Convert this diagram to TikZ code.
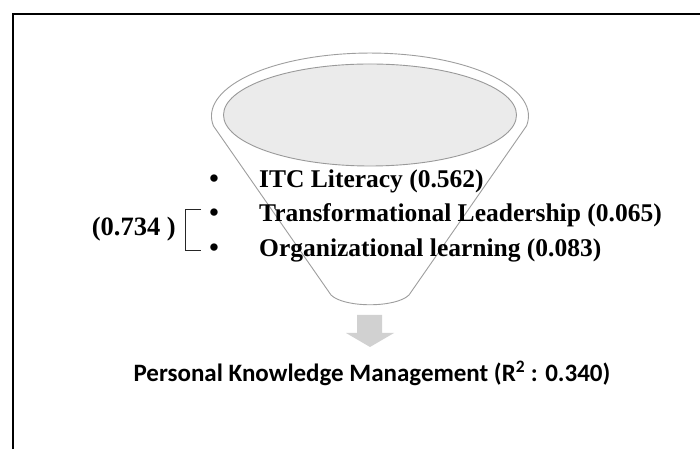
\documentclass[tikz,border=0pt]{standalone}
\usepackage{fontspec}
\setmainfont{Liberation Serif}
\newfontfamily\calib{Carlito}
\begin{document}
\begin{tikzpicture}[x=1pt,y=1pt,
  frameline/.style={line width=2pt, line join=miter},
  funnelline/.style={draw=black!38, line width=0.9pt},
  innerell/.style={draw=black!40, fill=black!8, line width=0.9pt},
  item/.style={anchor=base west, inner sep=0pt, font=\fontsize{25.5}{30}\selectfont\bfseries},
  bul/.style={anchor=base, inner sep=0pt, font=\fontsize{27}{30}\selectfont\bfseries},
  total/.style={anchor=base east, inner sep=0pt, font=\fontsize{26.5}{30}\selectfont\bfseries},
  bracketline/.style={draw=black!85, line width=0.8pt},
  arrowfill/.style={fill=black!18},
  pkmtext/.style={anchor=base, inner sep=0pt, font=\calib\fontsize{25}{30}\selectfont\bfseries}
]
\useasboundingbox (0,0) rectangle (700,449);
% frame
\draw[frameline] (13,0) -- (13,434.7) -- (700,434.7);
% funnel
\path[funnelline, fill=white] (409,154) -- (526.5,323.1)
  arc[start angle=-9, end angle=189, x radius=158.5, y radius=63]
  -- (331,154) .. controls (344,141) and (396,141) .. (409,154) -- cycle;
\draw[innerell] (370,334) ellipse [x radius=146.5, y radius=51];
% arrow
\fill[arrowfill] (357,134) -- (382,134) -- (382,116) -- (394,116) -- (370,102)
  -- (346,116) -- (357,116) -- cycle;
% items
\node[bul] (b1) at (214,261) {•};
\node[bul] (b2) at (214,227) {•};
\node[bul] (b3) at (214,192.5) {•};
\node[item] (t1) at (259,261) {ITC Literacy (0.562)};
\node[item] (t2) at (259,227) {Transformational Leadership (0.065)};
\node[item] (t3) at (259,192.5) {Organizational learning (0.083)};
% bracket
\coordinate (k1) at (201,240);
\coordinate (k2) at (201,199);
\draw[bracketline] (k1) -- (185,240) -- (185,199) -- (k2);
\node[total] (tot) at (176,213) {(0.734 )};
% result
\node[pkmtext] (pkm) at (372,67) {Personal Knowledge Management (R\textsuperscript{2} : 0.340)};
\end{tikzpicture}
\end{document}
